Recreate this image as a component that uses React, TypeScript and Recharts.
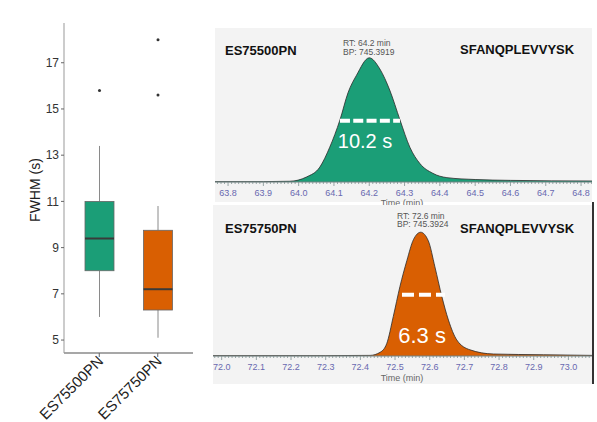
import React from "react";
import {
  ComposedChart,
  AreaChart,
  Area,
  Bar,
  XAxis,
  YAxis,
  ReferenceLine,
  ReferenceDot,
} from "recharts";

const FONT = "'Liberation Sans', Arial, sans-serif";

// ---- box plot data (FWHM, seconds) ----
const CATEGORIES = ["ES75500PN", "ES75750PN"];
const WHISKER_LOW = [6.0, 5.1];
const Q1 = [8.0, 6.3];
const MEDIAN = [9.4, 7.2];
const Q3 = [11.0, 9.75];
const WHISKER_HIGH = [13.4, 10.8];
const OUTLIERS = [[15.8], [18.0, 15.6]];
const BOX_COLORS = ["#1b9e77", "#d95f02"];
const FWHM_TICKS = [5, 7, 9, 11, 13, 15, 17];

// ---- chromatogram ES75500PN ----
const TOP_TIME = [63.763, 63.9, 63.975, 64.022, 64.06, 64.088, 64.117, 64.14, 64.164, 64.2, 64.23, 64.258, 64.287, 64.315, 64.343, 64.38, 64.42, 64.5, 64.6, 64.831];
const TOP_INT = [0.3, 0.3, 0.6, 4, 12, 28, 50, 72, 86, 100, 91, 74, 50, 28, 15, 7, 3.5, 2, 1.3, 0.8];
const TOP_TICKS = [63.8, 63.9, 64.0, 64.1, 64.2, 64.3, 64.4, 64.5, 64.6, 64.7, 64.8];
const TOP_HALF = [64.117, 64.287];
const TOP_LABEL_AT = [64.188, 33];

// ---- chromatogram ES75750PN ----
const BOT_TIME = [71.975, 72.3, 72.428, 72.457, 72.476, 72.495, 72.514, 72.534, 72.553, 72.574, 72.596, 72.615, 72.635, 72.654, 72.678, 72.716, 72.784, 72.928, 73.068];
const BOT_INT = [0.3, 0.3, 0.5, 3, 10, 32, 56, 77, 94, 100, 93, 72, 48, 29, 13, 5, 1.6, 1, 0.5];
const BOT_TICKS = [72.0, 72.1, 72.2, 72.3, 72.4, 72.5, 72.6, 72.7, 72.8, 72.9, 73.0];
const BOT_HALF = [72.52, 72.644];
const BOT_LABEL_AT = [72.578, 17];

const boxData = CATEGORIES.map((name, i) => ({
  name,
  box: [Q1[i], Q3[i]],
  lo: WHISKER_LOW[i],
  q1: Q1[i],
  med: MEDIAN[i],
  q3: Q3[i],
  hi: WHISKER_HIGH[i],
  outliers: OUTLIERS[i],
  color: BOX_COLORS[i],
}));

function BoxShape(props: any) {
  const { x, y, width, height, payload } = props;
  const top = Math.min(y, y + height);
  const h = Math.abs(height);
  const ppu = h / (payload.q3 - payload.q1);
  const py = (v: number) => top + (payload.q3 - v) * ppu;
  const cx = x + width / 2;
  return (
    <g>
      <line x1={cx} x2={cx} y1={py(payload.hi)} y2={py(payload.q3)} stroke="#8a8a8a" strokeWidth={1} />
      <line x1={cx} x2={cx} y1={py(payload.q1)} y2={py(payload.lo)} stroke="#8a8a8a" strokeWidth={1} />
      <rect x={x} y={top} width={width} height={h} fill={payload.color} stroke="#666" strokeWidth={0.8} />
      <line x1={x} x2={x + width} y1={py(payload.med)} y2={py(payload.med)} stroke="#3a3a3a" strokeWidth={2} />
      {payload.outliers.map((o: number, k: number) => (
        <circle key={k} cx={cx} cy={py(o)} r={1.5} fill="#333" />
      ))}
    </g>
  );
}

function CatTick(props: any) {
  const { x, y, payload } = props;
  return (
    <g transform={`translate(${x + 5},${y + 3})`}>
      <text transform="rotate(-45)" textAnchor="end" fontSize={15} fill="#222" fontFamily={FONT}>
        {payload.value}
      </text>
    </g>
  );
}

function minorTicks(min: number, max: number) {
  const out: number[] = [];
  for (let k = Math.ceil(min * 100); k <= Math.floor(max * 100); k++) out.push(k / 100);
  return out;
}

function makeTimeTick(labels: number[]) {
  return (props: any) => {
    const { x, y, payload } = props;
    const v = payload.value as number;
    const major = labels.some((l) => Math.abs(l - v) < 1e-6);
    return (
      <g>
        <line x1={x} x2={x} y1={y} y2={y + (major ? 4 : 2)} stroke="#7f9090" strokeWidth={0.8} />
        {major && (
          <text x={x} y={y + 14} textAnchor="middle" fontSize={9} fill="#6868b0" fontFamily={FONT}>
            {v.toFixed(1)}
          </text>
        )}
      </g>
    );
  };
}

function Peak(props: any) {
  const { time, inten, labels, domain, yMax, half, width, height, axisH, color, dash, fwhm, fwhmAt, fwhmSize, texts } = props;
  const data = time.map((t: number, i: number) => ({ t, i: inten[i] }));
  return (
    <AreaChart width={width} height={height} data={data} margin={{ top: 0, right: 0, bottom: 0, left: 0 }}>
      <XAxis
        dataKey="t"
        type="number"
        domain={domain}
        allowDataOverflow
        ticks={minorTicks(domain[0], domain[1])}
        interval={0}
        tickLine={false}
        tickSize={0}
        tickMargin={0}
        height={axisH}
        axisLine={{ stroke: "#6f8080", strokeWidth: 1 }}
        tick={makeTimeTick(labels)}
      />
      <YAxis hide domain={[0, yMax]} />
      <Area
        type="monotone"
        dataKey="i"
        stroke="#2a2a2a"
        strokeWidth={0.8}
        fill={color}
        fillOpacity={1}
        isAnimationActive={false}
      />
      <ReferenceLine
        segment={[
          { x: half[0], y: 49.4 },
          { x: half[1], y: 49.4 },
        ]}
        stroke="#fff"
        strokeWidth={4}
        strokeDasharray={dash}
      />
      <ReferenceDot
        x={fwhmAt[0]}
        y={fwhmAt[1]}
        r={0}
        fill="none"
        stroke="none"
        label={{ value: fwhm, position: "center", fill: "#fff", fontSize: fwhmSize, fontFamily: FONT }}
      />
      {texts}
    </AreaChart>
  );
}

export default function App() {
  return (
    <div style={{ position: "fixed", left: 0, top: 0, width: 597, height: 422, background: "#fff", fontFamily: FONT }}>
      {/* box plot */}
      <div style={{ position: "absolute", left: 0, top: 0 }}>
        <ComposedChart width={200} height={422} data={boxData} margin={{ top: 23, right: 7, bottom: 0, left: 0 }}>
          <XAxis
            dataKey="name"
            padding={{ left: 6, right: 6 }}
            height={69}
            tickSize={4}
            tickMargin={2}
            tickLine={{ stroke: "#666" }}
            axisLine={{ stroke: "#8a8a8a", strokeWidth: 1.5 }}
            tick={<CatTick />}
            interval={0}
          />
          <XAxis xAxisId="top" orientation="top" height={0} tick={false} tickLine={false} axisLine={{ stroke: "#aaa" }} />
          <YAxis
            domain={[4.44, 18.72]}
            ticks={FWHM_TICKS}
            width={64}
            tickSize={3}
            tickMargin={2}
            tickLine={{ stroke: "#666" }}
            axisLine={{ stroke: "#999" }}
            tick={{ fontSize: 12, fill: "#333", fontFamily: FONT }}
            allowDataOverflow
          />
          <YAxis yAxisId="right" orientation="right" width={0} tick={false} tickLine={false} axisLine={{ stroke: "#aaa" }} />
          <Bar dataKey="box" barSize={29} shape={<BoxShape />} isAnimationActive={false} />
          <text x={35} y={190} transform="rotate(-90 35 190)" textAnchor="middle" dominantBaseline="central" fontSize={14} fill="#222" fontFamily={FONT}>
            FWHM (s)
          </text>
        </ComposedChart>
      </div>

      {/* top chromatogram */}
      <div style={{ position: "absolute", left: 215, top: 28, width: 377, height: 174, background: "#f3f3f3" }} />
      <div style={{ position: "absolute", left: 215, top: 28 }}>
        <Peak
          time={TOP_TIME}
          inten={TOP_INT}
          labels={TOP_TICKS}
          domain={[63.763, 64.831]}
          yMax={124}
          half={TOP_HALF}
          width={377}
          height={180}
          axisH={26}
          color="#1b9e77"
          dash="10 3.3"
          fwhm="10.2 s"
          fwhmAt={TOP_LABEL_AT}
          fwhmSize={20}
          texts={[
            <text key="a" x={10} y={27} fontSize={13} fontWeight="bold" fill="#111" fontFamily={FONT}>ES75500PN</text>,
            <text key="b" x={245} y={26} fontSize={13} fontWeight="bold" fill="#111" fontFamily={FONT}>SFANQPLEVVYSK</text>,
            <text key="c" x={128} y={18} fontSize={8.5} fill="#555" fontFamily={FONT}>RT: 64.2 min</text>,
            <text key="d" x={128} y={26.5} fontSize={8.5} fill="#555" fontFamily={FONT}>BP: 745.3919</text>,
            <text key="f" x={187} y={178} fontSize={9} textAnchor="middle" fill="#666" fontFamily={FONT}>Time (min)</text>,
          ]}
        />
      </div>

      {/* bottom chromatogram */}
      <div style={{ position: "absolute", left: 213, top: 205, width: 379, height: 179, background: "#f3f3f3" }} />
      <div style={{ position: "absolute", left: 592, top: 202, width: 1.5, height: 182, background: "#333" }} />
      <div style={{ position: "absolute", left: 213, top: 205 }}>
        <Peak
          time={BOT_TIME}
          inten={BOT_INT}
          labels={BOT_TICKS}
          domain={[71.975, 73.068]}
          yMax={122}
          half={BOT_HALF}
          width={379}
          height={179}
          axisH={28}
          color="#d95f02"
          dash="12 5"
          fwhm="6.3 s"
          fwhmAt={BOT_LABEL_AT}
          fwhmSize={22}
          texts={[
            <text key="a" x={12} y={28} fontSize={13} fontWeight="bold" fill="#111" fontFamily={FONT}>ES75750PN</text>,
            <text key="b" x={247} y={28} fontSize={13} fontWeight="bold" fill="#111" fontFamily={FONT}>SFANQPLEVVYSK</text>,
            <text key="c" x={184} y={13.5} fontSize={8.5} fill="#555" fontFamily={FONT}>RT: 72.6 min</text>,
            <text key="d" x={184} y={22} fontSize={8.5} fill="#555" fontFamily={FONT}>BP: 745.3924</text>,
            <text key="f" x={189} y={176} fontSize={9} textAnchor="middle" fill="#666" fontFamily={FONT}>Time (min)</text>,
          ]}
        />
      </div>
    </div>
  );
}
